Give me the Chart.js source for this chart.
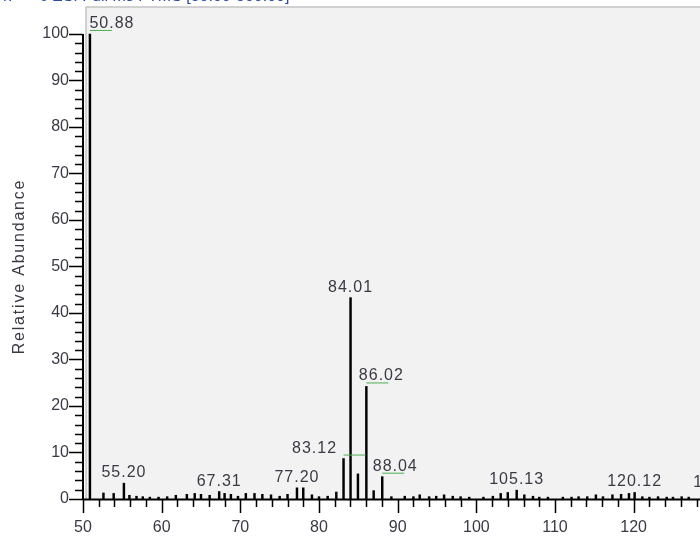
<!DOCTYPE html>
<html>
<head>
<meta charset="utf-8">
<title>Mass spectrum</title>
<script src="https://cdn.jsdelivr.net/npm/chart.js@4.4.1/dist/chart.umd.min.js"></script>
<style>
    html, body { margin: 0; padding: 0; background: #fff; overflow: hidden; }
    #wrap { width: 700px; height: 541px; overflow: hidden; }
</style>
</head>
<body>
<div id="wrap"><canvas id="spectrum" width="800" height="541"></canvas></div>
<script>
// Peaks (m/z, relative abundance)
const peakMz = [
    50.88, 52.6, 53.9, 55.20, 55.9, 56.8, 57.6, 58.5, 59.6, 60.7, 61.8, 63.2, 64.2, 65.0, 66.1,
    67.31, 68.0, 68.8, 69.7, 70.7, 71.8, 72.8, 73.9, 75.0, 76.0, 77.20, 78.0, 79.1, 80.0, 81.1,
    82.2, 83.12, 84.01, 84.95, 86.02, 86.95, 88.04, 89.2, 90.9, 92.0, 92.8, 94.0, 94.9, 95.9,
    97.0, 98.0, 99.1, 100.9, 102.1, 103.1, 104.0, 105.13, 106.1, 107.2, 108.0, 109.1, 111.0,
    112.1, 113.0, 114.1, 115.2, 116.1, 117.3, 118.4, 119.4, 120.12, 121.1, 122.0, 123.1, 124.2,
    125.0, 126.1, 127.0, 131.06
];
const peakInt = [
    100, 1.3, 1.2, 3.4, 0.8, 0.6, 0.5, 0.4, 0.4, 0.5, 0.8, 1.0, 1.2, 1.0, 0.8,
    1.6, 1.2, 1.0, 0.6, 1.2, 1.2, 1.0, 0.9, 0.6, 1.0, 2.4, 2.4, 0.9, 0.5, 0.6,
    1.5, 8.7, 43.3, 5.4, 24.2, 1.8, 4.8, 0.5, 0.6, 0.5, 0.9, 0.5, 0.6, 0.9,
    0.6, 0.5, 0.4, 0.4, 0.6, 1.2, 1.4, 1.9, 0.9, 0.6, 0.4, 0.4, 0.4,
    0.4, 0.5, 0.5, 0.9, 0.5, 0.9, 1.0, 1.2, 1.4, 0.5, 0.4, 0.5, 0.4,
    0.4, 0.5, 0.4, 1.2
];
// Annotated peaks
const labelMz = [50.88, 55.20, 67.31, 77.20, 83.12, 84.01, 86.02, 88.04, 105.13, 120.12, 131.06];
const xTicks = [50, 60, 70, 80, 90, 100, 110, 120, 130];
const yTicks = [0, 10, 20, 30, 40, 50, 60, 70, 80, 90, 100];

const scanTitle = 'T:   + c ESI Full ms FTMS [50.00-500.00]';
const yTitle = 'Relative Abundance';

const FONT = 'Arial, "Liberation Sans", sans-serif';
const TEXT = '#3a3a44';

// label nudges so neighbouring labels don't collide
const labelShift = { '50.88': 22, '83.12': -29, '86.02': 15, '88.04': 13 };
const underlined = ['50.88', '83.12', '86.02', '88.04'];

const noPadding = s => {
    s.paddingTop = 0;
    s.paddingBottom = 0;
    s.paddingLeft = 0;
    s.paddingRight = 0;
};

const spectrumDecor = {
    id: 'spectrumDecor',
    beforeDraw(chart) {
        const { ctx, chartArea } = chart;
        ctx.save();
        // grey plot box
        ctx.fillStyle = '#f2f2f2';
        ctx.fillRect(chartArea.left + 3, chartArea.top, chart.width, chartArea.bottom - chartArea.top);
        ctx.strokeStyle = '#c4c4c4';
        ctx.lineWidth = 1.5;
        ctx.beginPath();
        ctx.moveTo(chartArea.left + 3, chartArea.bottom);
        ctx.lineTo(chartArea.left + 3, chartArea.top);
        ctx.lineTo(chart.width, chartArea.top);
        ctx.stroke();
        // clipped scan header
        ctx.fillStyle = '#2b4aa8';
        ctx.font = '16px ' + FONT;
        ctx.textBaseline = 'alphabetic';
        ctx.fillText(scanTitle, 0, 1);
        ctx.restore();
    },
    afterDatasetsDraw(chart) {
        const { ctx, chartArea, scales } = chart;
        const x = scales.x, y = scales.y;
        const x0 = chartArea.left, y0 = chartArea.bottom;
        ctx.save();
        ctx.strokeStyle = '#000';
        ctx.lineWidth = 1.5;
        ctx.beginPath();
        // y ticks, major every 10, minor every 2
        for (let v = 0; v <= 100; v += 2) {
            const py = Math.round(y.getPixelForValue(v)) + 0.5;
            const len = v % 10 === 0 ? 14 : 8;
            ctx.moveTo(x0 - len, py);
            ctx.lineTo(x0, py);
        }
        // x ticks
        for (let v = 50; v <= x.max; v += 2) {
            const px = Math.round(x.getPixelForValue(v)) + 0.5;
            const len = v % 10 === 0 ? 14 : 8;
            ctx.moveTo(px, y0);
            ctx.lineTo(px, y0 + len);
        }
        ctx.stroke();
        // axis lines
        ctx.lineWidth = 2;
        ctx.beginPath();
        ctx.moveTo(x0, y.getPixelForValue(100));
        ctx.lineTo(x0, y0 + 1);
        ctx.moveTo(x0, y0 + 0.5);
        ctx.lineTo(chart.width, y0 + 0.5);
        ctx.stroke();

        // peak labels
        ctx.font = '16px ' + FONT;
        ctx.letterSpacing = '1px';
        ctx.textAlign = 'center';
        ctx.textBaseline = 'alphabetic';
        labelMz.forEach(m => {
            const i = peakMz.indexOf(m);
            const txt = m.toFixed(2);
            const px = x.getPixelForValue(m);
            const py = y.getPixelForValue(peakInt[i]);
            const tx = px + (labelShift[txt] || 0);
            ctx.fillStyle = TEXT;
            ctx.fillText(txt, tx, py - 6);
            if (underlined.includes(txt)) {
                ctx.strokeStyle = '#4caf50';
                ctx.lineWidth = 1;
                ctx.beginPath();
                ctx.moveTo(px, py - 3.5);
                ctx.lineTo(px + 22, py - 3.5);
                ctx.stroke();
            }
        });

        // y axis title
        ctx.translate(20, y.getPixelForValue(50));
        ctx.rotate(-Math.PI / 2);
        ctx.fillStyle = TEXT;
        ctx.font = '16px ' + FONT;
        ctx.letterSpacing = '1.8px';
        ctx.textAlign = 'center';
        ctx.textBaseline = 'middle';
        ctx.fillText(yTitle, 0, 0);
        ctx.restore();
    }
};

new Chart(document.getElementById('spectrum'), {
    type: 'bar',
    data: {
        datasets: [{
            data: peakMz.map((m, i) => ({ x: m, y: peakInt[i] })),
            backgroundColor: '#000',
            barThickness: 1.8
        }]
    },
    options: {
        responsive: false,
        animation: false,
        layout: { padding: { top: 7, right: 9, left: 0, bottom: 0 } },
        plugins: {
            legend: { display: false },
            tooltip: { enabled: false }
        },
        scales: {
            x: {
                type: 'linear',
                min: 50,
                max: 140,
                offset: false,
                grid: { display: false, drawTicks: false, offset: false },
                border: { display: false },
                afterBuildTicks: s => { s.ticks = xTicks.map(v => ({ value: v })); },
                afterFit: s => { s.height = 42; noPadding(s); },
                ticks: {
                    padding: 19,
                    color: TEXT,
                    font: { family: FONT, size: 16 },
                    maxRotation: 0,
                    autoSkip: false
                }
            },
            y: {
                min: 0,
                max: 105.8,
                grid: { display: false, drawTicks: false },
                border: { display: false },
                afterBuildTicks: s => { s.ticks = yTicks.map(v => ({ value: v })); },
                afterFit: s => { s.width = 83; noPadding(s); },
                ticks: {
                    padding: 14,
                    color: TEXT,
                    font: { family: FONT, size: 16 },
                    autoSkip: false
                }
            }
        }
    },
    plugins: [spectrumDecor]
});
</script>
</body>
</html>
